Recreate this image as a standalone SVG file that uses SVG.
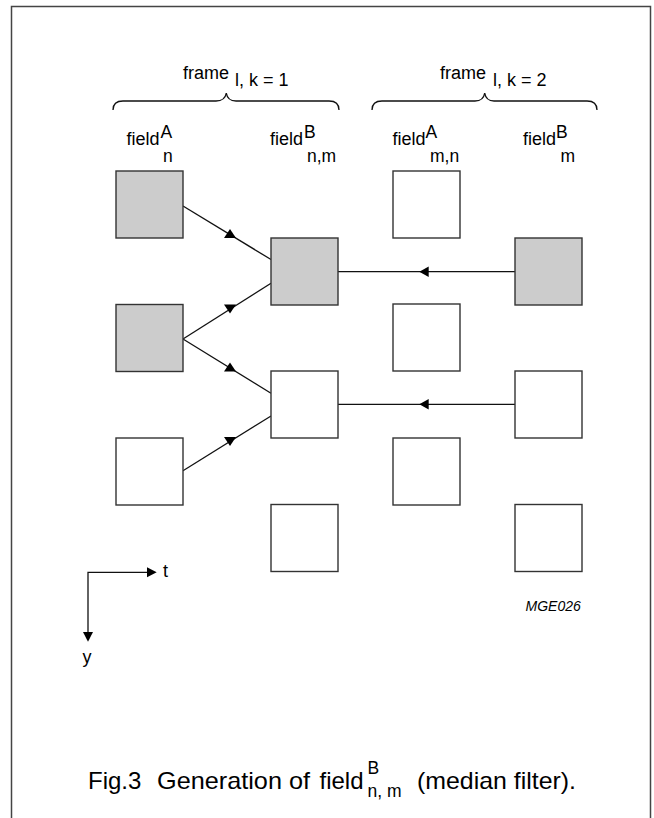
<svg xmlns="http://www.w3.org/2000/svg" width="654" height="818" viewBox="0 0 654 818">
<style>
.box{stroke:#333;stroke-width:1.4}
.g{fill:#cccccc}
.w{fill:#ffffff}
.ln{stroke:#111;stroke-width:1.3;fill:none}
.ah{fill:#000}
text{font-family:"Liberation Sans",Arial,sans-serif;fill:#000}
.lb{font-size:18px}
.sm{font-size:17.5px}
.cap{font-size:24px}
.cs{font-size:17.5px}
</style>
<rect x="0" y="0" width="654" height="818" fill="#fff"/>
<path d="M11.5,818 V6.5 H650.5 V818" fill="none" stroke="#444" stroke-width="1.5"/>
<g id="braces">
<path class="ln" d="M113,110 Q113,101 123,101 L216,101 Q225,101 226.3,93 Q227.5,101 236,101 L329,101 Q339,101 339,110"/>
<path class="ln" d="M372,110 Q372,101 382,101 L475,101 Q483.5,101 484.7,93 Q486,101 494,101 L587,101 Q597,101 597,110"/>
<text class="lb" x="183" y="79">frame</text><text class="lb" x="235" y="86">l, k = 1</text>
<text class="lb" x="440" y="79">frame</text><text class="lb" x="493" y="86">l, k = 2</text>
</g>
<g id="labels">
<text class="lb" x="126.5" y="145">field</text><text class="sm" x="160.5" y="138">A</text><text class="sm" x="163" y="161.5">n</text>
<text class="lb" x="270" y="145">field</text><text class="sm" x="304" y="138">B</text><text class="sm" x="307" y="161.5">n,m</text>
<text class="lb" x="392.5" y="145">field</text><text class="sm" x="425.5" y="138">A</text><text class="sm" x="430" y="161.5">m,n</text>
<text class="lb" x="523" y="145">field</text><text class="sm" x="556" y="138">B</text><text class="sm" x="560.5" y="161.5">m</text>
</g>
<g id="connectors">
<line class="ln" x1="183" y1="206" x2="271" y2="259.5"/>
<line class="ln" x1="183" y1="339" x2="271" y2="283.3"/>
<line class="ln" x1="183" y1="339" x2="271" y2="393.3"/>
<line class="ln" x1="183" y1="470.7" x2="271" y2="416"/>
<line class="ln" x1="515" y1="271.7" x2="338" y2="271.7"/>
<line class="ln" x1="515" y1="404.3" x2="338" y2="404.3"/>
<polygon class="ah" points="230,229 224,238 236,238"/>
<polygon class="ah" points="224,304.5 236,304.5 230,313.5"/>
<polygon class="ah" points="230,362.5 224,371.5 236,371.5"/>
<polygon class="ah" points="224,437 236,437 230,446"/>
<polygon class="ah" points="419.3,271.7 428.7,266.4 428.7,277"/>
<polygon class="ah" points="419.3,404.3 428.7,399 428.7,409.6"/>
</g>
<g id="n-a1-1"><rect class="box g" x="116" y="171" width="67" height="67"/></g>
<g id="n-a1-2"><rect class="box g" x="116" y="304.5" width="67" height="67"/></g>
<g id="n-a1-3"><rect class="box w" x="116" y="438" width="67" height="67"/></g>
<g id="n-b1-1"><rect class="box g" x="271" y="238" width="67" height="67"/></g>
<g id="n-b1-2"><rect class="box w" x="271" y="371" width="67" height="67"/></g>
<g id="n-b1-3"><rect class="box w" x="271" y="504.5" width="67" height="67"/></g>
<g id="n-a2-1"><rect class="box w" x="393" y="171" width="67" height="67"/></g>
<g id="n-a2-2"><rect class="box w" x="393" y="304" width="67" height="67"/></g>
<g id="n-a2-3"><rect class="box w" x="393" y="438" width="67" height="67"/></g>
<g id="n-b2-1"><rect class="box g" x="515" y="238" width="67" height="67"/></g>
<g id="n-b2-2"><rect class="box w" x="515" y="371" width="67" height="67"/></g>
<g id="n-b2-3"><rect class="box w" x="515" y="504.5" width="67" height="67"/></g>
<g id="axes">
<path class="ln" d="M148,572.3 H88 V633"/>
<polygon class="ah" points="156.7,572.3 147,567.3 147,577.3"/>
<polygon class="ah" points="88,641.7 83,632 93,632"/>
<text class="lb" x="163" y="577">t</text>
<text class="lb" x="82.5" y="663">y</text>
</g>
<text x="525.5" y="611" font-size="14" font-style="italic">MGE026</text>
<g id="caption">
<text class="cap" x="88" y="789.3">Fig.3</text>
<text class="cap" x="157" y="789.3" textLength="153" lengthAdjust="spacingAndGlyphs">Generation of</text>
<text class="cap" x="319.5" y="789.3">field</text>
<text class="cs" x="367.5" y="774.3">B</text>
<text class="cs" x="367.5" y="797.3">n, m</text>
<text class="cap" x="417" y="789.3" textLength="159" lengthAdjust="spacingAndGlyphs">(median filter).</text>
</g>
</svg>
